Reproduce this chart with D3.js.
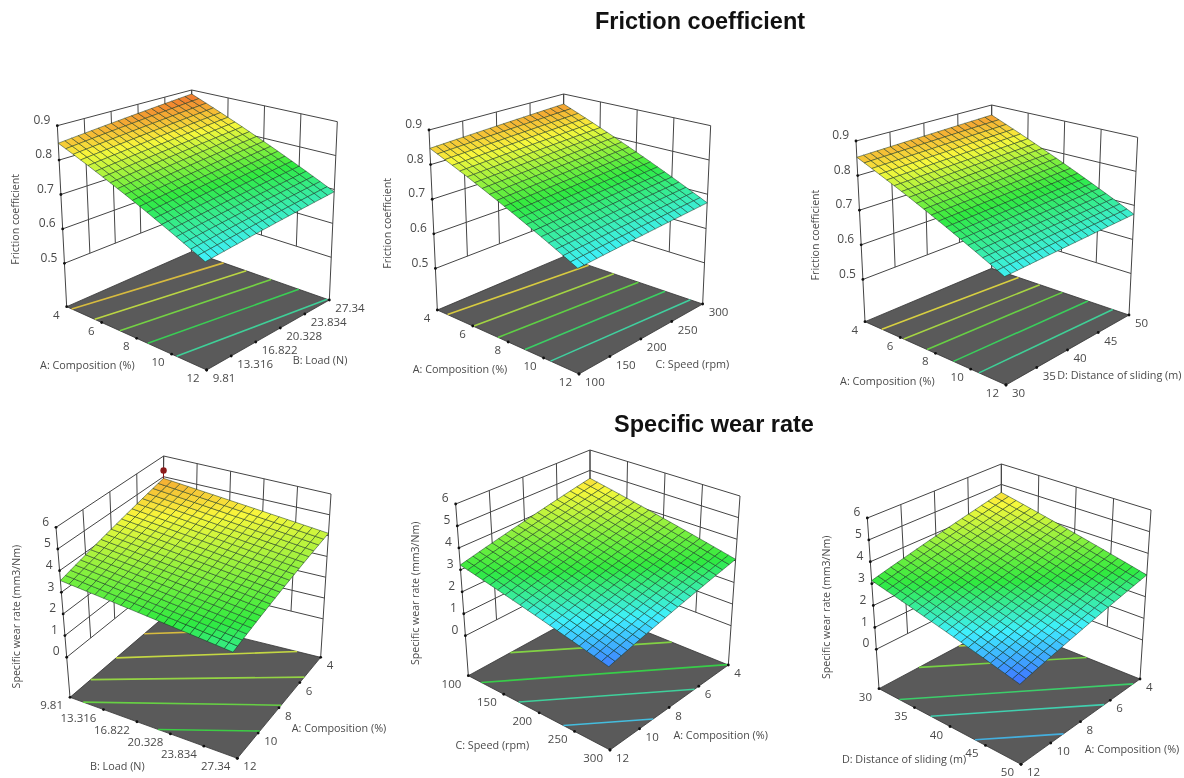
<!DOCTYPE html>
<html>
<head>
<meta charset="utf-8">
<script src="https://cdn.jsdelivr.net/npm/d3@7"></script>
<style>
  html, body { margin: 0; background: #fff; }
  svg { filter: blur(0.3px); }
  text { font-family: "Open Sans", sans-serif; fill: #4a4a4a; }
  .heading { font-family: "Liberation Sans", Arial, sans-serif; font-weight: bold; fill: #111; font-size: 23.5px; text-anchor: middle; }
</style>
</head>
<body>
<svg id="chart" width="1184" height="778"></svg>
<script>
// tick values on the axes
var compositionTicks = [4, 6, 8, 10, 12];
var compositionTicksRev = [12, 10, 8, 6, 4];
var loadTicks = [9.81, 13.316, 16.822, 20.328, 23.834, 27.34];
var speedTicks = [100, 150, 200, 250, 300];
var distanceTicks = [30, 35, 40, 45, 50];
var frictionTicks = [0.5, 0.6, 0.7, 0.8, 0.9];
var wearTicks = [0, 1, 2, 3, 4, 5, 6];

// The surfaces are flat response planes. Corner heights are read off the picture,
// in the order left, front, right, back; the mesh is a subdivision of that plane.
var frictionLoadCorners = [0.849, 0.654, 0.693, 0.887];
var frictionSpeedCorners = [0.847, 0.653, 0.675, 0.868];
var frictionDistanceCorners = [0.853, 0.66, 0.674, 0.868];
var wearLoadCorners = [3.54, 2.78, 4.11, 4.92];
var wearSpeedCorners = [3.22, 1.7, 3.07, 4.61];
var wearDistanceCorners = [3.14, 1.6, 3.0, 4.61];

// levels of the contours on the floor
var frictionLoadLevels = [0.842, 0.81, 0.775, 0.736, 0.696];
var frictionSpeedLevels = [0.833, 0.798, 0.764, 0.727, 0.692];
var frictionDistanceLevels = [0.83, 0.8, 0.768, 0.732, 0.697];
var wearLoadLevels = [4.65, 4.23, 3.85, 3.48, 3.14];
var wearSpeedLevels = [4.25, 3.7, 3.08, 2.68, 2.2];
var wearDistanceLevels = [4.1, 3.62, 2.92, 2.58, 2.1];

// the one design point shown above the surface (bottom left panel)
var wearLoadDesignPoint = [5.3];

// rainbow used by the software for each response
var frictionColorStops = [0.58, 0.655, 0.745, 0.825, 0.9];
var wearColorStops = [1.6, 2.35, 3.1, 4.4, 5.5];
var rainbow = ["#3f6cff", "#3ff0ff", "#30ea40", "#f8f83c", "#f0562a"];

var cellsPerSide = 20;

// layout: box corners are in 3x crop coordinates, relative to origin
var panels = [
  { origin: [0, 80], floor: [[200,680],[620,870],[988,660],[575,515]], top: [[172,137],[612,260],[1012,125],[575,30]],
    zMin: 0.374, zMax: 0.9, zTicks: frictionTicks, zFormat: d3.format(".1f"), stops: frictionColorStops,
    uTicks: compositionTicks, vTicks: loadTicks, corners: frictionLoadCorners, levels: frictionLoadLevels,
    uTitle: ["A: Composition (%)", 262, 857], vTitle: ["B: Load (N)", 960, 840], zTitle: ["Friction coefficient", 47, 418] },
  { origin: [380, 80], floor: [[172,690],[597,882],[968,672],[550,530]], top: [[147,150],[590,278],[992,137],[551,42]],
    zMin: 0.38, zMax: 0.9, zTicks: frictionTicks, zFormat: d3.format(".1f"), stops: frictionColorStops,
    uTicks: compositionTicks, vTicks: speedTicks, corners: frictionSpeedCorners, levels: frictionSpeedLevels,
    uTitle: ["A: Composition (%)", 240, 868], vTitle: ["C: Speed (rpm)", 937, 853], zTitle: ["Friction coefficient", 22, 430] },
  { origin: [810, 80], floor: [[165,725],[588,915],[957,705],[545,565]], top: [[138,183],[580,313],[983,172],[545,75]],
    zMin: 0.378, zMax: 0.9, zTicks: frictionTicks, zFormat: d3.format(".1f"), stops: frictionColorStops,
    uTicks: compositionTicks, vTicks: distanceTicks, corners: frictionDistanceCorners, levels: frictionDistanceLevels,
    uTitle: ["A: Composition (%)", 232, 903], vTitle: ["D: Distance of sliding (m)", 928, 887], zTitle: ["Friction coefficient", 15, 465] },
  { origin: [0, 450], floor: [[210,742],[712,925],[962,622],[487,505]], top: [[168,232],[690,385],[993,132],[491,18]],
    zMin: -1.85, zMax: 6, zTicks: wearTicks, zFormat: d3.format("d"), stops: wearColorStops,
    uTicks: loadTicks, vTicks: compositionTicksRev, corners: wearLoadCorners, levels: wearLoadLevels, designPoint: wearLoadDesignPoint,
    uTitle: ["B: Load (N)", 352, 950], vTitle: ["A: Composition (%)", 1017, 835], zTitle: ["Specific wear rate (mm3/Nm)", 50, 500] },
  { origin: [400, 450], floor: [[205,677],[630,900],[985,645],[570,477]], top: [[167,162],[622,345],[1020,138],[570,0]],
    zMin: -1.82, zMax: 6, zTicks: wearTicks, zFormat: d3.format("d"), stops: wearColorStops,
    uTicks: speedTicks, vTicks: compositionTicksRev, corners: wearSpeedCorners, levels: wearSpeedLevels,
    uTitle: ["C: Speed (rpm)", 277, 887], vTitle: ["A: Composition (%)", 962, 855], zTitle: ["Specific wear rate (mm3/Nm)", 47, 430] },
  { origin: [810, 450], floor: [[207,716],[633,943],[990,687],[574,520]], top: [[172,204],[625,392],[1023,180],[574,42]],
    zMin: -1.8, zMax: 6, zTicks: wearTicks, zFormat: d3.format("d"), stops: wearColorStops,
    uTicks: distanceTicks, vTicks: compositionTicksRev, corners: wearDistanceCorners, levels: wearDistanceLevels,
    uTitle: ["D: Distance of sliding (m)", 282, 928], vTitle: ["A: Composition (%)", 966, 897], zTitle: ["Specific wear rate (mm3/Nm)", 50, 472] }
];

// unit square to quad, corners in the order (0,0) (1,0) (1,1) (0,1).
// bilinear because ticks stay evenly spaced along the edges in the picture
function squareToQuad(q) {
  return function(u, v) {
    return [0, 1].map(function(k) {
      return q[0][k] * (1 - u) * (1 - v) + q[1][k] * u * (1 - v) + q[2][k] * u * v + q[3][k] * (1 - u) * v;
    });
  };
}

var svg = d3.select("#chart");

svg.append("text").attr("class", "heading").attr("x", 700).attr("y", 29).text("Friction coefficient");
svg.append("text").attr("class", "heading").attr("x", 714).attr("y", 432).text("Specific wear rate");

var line = d3.line();

panels.forEach(function(p) {
  var px = function(c) { return [p.origin[0] + c[0] / 3, p.origin[1] + c[1] / 3]; };
  var floorAt = squareToQuad(p.floor.map(px));
  var topAt = squareToQuad(p.top.map(px));

  var uScale = d3.scaleLinear().domain([p.uTicks[0], p.uTicks[p.uTicks.length - 1]]).range([0, 1]);
  var vScale = d3.scaleLinear().domain([p.vTicks[0], p.vTicks[p.vTicks.length - 1]]).range([0, 1]);
  var wScale = d3.scaleLinear().domain([p.zMin, p.zMax]).range([0, 1]);
  var color = d3.scaleLinear().domain(p.stops).range(rainbow).clamp(true);

  var project = function(u, v, w) {
    var a = floorAt(u, v), b = topAt(u, v);
    return [a[0] + (b[0] - a[0]) * w, a[1] + (b[1] - a[1]) * w];
  };
  // response plane from the four corner heights
  var zAt = function(u, v) {
    var c = p.corners;
    return c[0] * (1 - u) * (1 - v) + c[1] * u * (1 - v) + c[2] * u * v + c[3] * (1 - u) * v;
  };

  var g = svg.append("g");
  var walls = g.append("g").attr("fill", "none").attr("stroke", "#444").attr("stroke-width", 1);

  // horizontal grid on the two back walls
  walls.selectAll(".zgrid").data(p.zTicks).enter().append("path")
      .attr("d", function(z) {
        var w = wScale(z);
        return line([project(0, 0, w), project(0, 1, w), project(1, 1, w)]);
      });
  // vertical grid: inner lines stop at the lowest tick, the corners go down to the floor
  var wallBase = wScale(p.zTicks[0]);
  walls.selectAll(".vgrid").data(p.vTicks).enter().append("path")
      .attr("d", function(t) {
        var v = vScale(t);
        return line([project(0, v, v === 0 || v === 1 ? 0 : wallBase), project(0, v, 1)]);
      });
  walls.selectAll(".ugrid").data(p.uTicks).enter().append("path")
      .attr("d", function(t) {
        var u = uScale(t);
        return line([project(u, 1, u === 0 || u === 1 ? 0 : wallBase), project(u, 1, 1)]);
      });

  // floor
  g.append("path")
      .attr("d", line([project(0, 0, 0), project(1, 0, 0), project(1, 1, 0), project(0, 1, 0)]) + "Z")
      .attr("fill", "#5a5a5a").attr("stroke", "#333").attr("stroke-width", 0.8);

  // contours on the floor, straight because the response is a plane
  var edgeCrossings = function(level) {
    var ends = [[0, 0, 1, 0], [1, 0, 1, 1], [1, 1, 0, 1], [0, 1, 0, 0]], pts = [];
    ends.forEach(function(e) {
      var za = zAt(e[0], e[1]), zb = zAt(e[2], e[3]);
      if ((za - level) * (zb - level) < 0) {
        var t = (level - za) / (zb - za);
        pts.push(project(e[0] + (e[2] - e[0]) * t, e[1] + (e[3] - e[1]) * t, 0));
      }
    });
    return pts;
  };
  g.selectAll(".contour").data(p.levels).enter().append("path")
      .attr("d", function(l) { return line(edgeCrossings(l)); })
      .attr("fill", "none")
      .attr("stroke", function(l) { return color(l); })
      .attr("stroke-opacity", 0.8)
      .attr("stroke-width", 1.6);

  // tick dots on the axes
  var dots = [];
  p.zTicks.forEach(function(z) { dots.push(project(0, 0, wScale(z))); });
  p.uTicks.forEach(function(t) { dots.push(project(uScale(t), 0, 0)); });
  p.vTicks.forEach(function(t) { dots.push(project(1, vScale(t), 0)); });
  g.selectAll(".tick").data(dots).enter().append("circle")
      .attr("cx", function(d) { return d[0]; })
      .attr("cy", function(d) { return d[1]; })
      .attr("r", 1.4)
      .attr("fill", "#111");

  // surface mesh
  var cells = [];
  d3.range(cellsPerSide).forEach(function(i) {
    d3.range(cellsPerSide).forEach(function(j) { cells.push([i, j]); });
  });
  var cellCoord = d3.scaleLinear().domain([0, cellsPerSide]).range([0, 1]);
  g.append("g").selectAll("path").data(cells).enter().append("path")
      .attr("d", function(c) {
        var corners = [[c[0], c[1]], [c[0] + 1, c[1]], [c[0] + 1, c[1] + 1], [c[0], c[1] + 1]].map(function(k) {
          var u = cellCoord(k[0]), v = cellCoord(k[1]);
          return project(u, v, wScale(zAt(u, v)));
        });
        return line(corners) + "Z";
      })
      .attr("fill", function(c) {
        return color(zAt(cellCoord(c[0] + 0.5), cellCoord(c[1] + 0.5)));
      })
      .attr("stroke", "#12301f")
      .attr("stroke-opacity", 0.62)
      .attr("stroke-width", 0.8);

  // design point with its stem down to the surface
  if (p.designPoint) {
    var dp = project(0, 1, wScale(p.designPoint[0]));
    var foot = project(0, 1, wScale(zAt(0, 1)));
    g.append("path").attr("d", line([dp, foot])).attr("stroke", "#8b1a1a").attr("stroke-width", 1);
    g.append("circle").attr("cx", dp[0]).attr("cy", dp[1]).attr("r", 3.2).attr("fill", "#8b1a1a");
  }

  // tick labels
  g.selectAll(".zlabel").data(p.zTicks).enter().append("text")
      .attr("x", function(z) { return project(0, 0, wScale(z))[0] - 7; })
      .attr("y", function(z) { return project(0, 0, wScale(z))[1] - 6; })
      .attr("dy", "0.35em").attr("text-anchor", "end").attr("font-size", 12)
      .text(p.zFormat);
  g.selectAll(".ulabel").data(p.uTicks).enter().append("text")
      .attr("x", function(t) { return project(uScale(t), 0, 0)[0] - 7; })
      .attr("y", function(t) { return project(uScale(t), 0, 0)[1] + 8; })
      .attr("dy", "0.35em").attr("text-anchor", "end").attr("font-size", 11.5)
      .text(function(t) { return t; });
  g.selectAll(".vlabel").data(p.vTicks).enter().append("text")
      .attr("x", function(t) { return project(1, vScale(t), 0)[0] + 6; })
      .attr("y", function(t) { return project(1, vScale(t), 0)[1] + 8; })
      .attr("dy", "0.35em").attr("text-anchor", "start").attr("font-size", 11.5)
      .text(function(t) { return t; });

  // axis titles
  [p.uTitle, p.vTitle].forEach(function(t) {
    var at = px([t[1], t[2]]);
    g.append("text").attr("x", at[0]).attr("y", at[1]).attr("dy", "0.35em")
        .attr("text-anchor", "middle").attr("font-size", 10.8).text(t[0]);
  });
  var zt = px([p.zTitle[1], p.zTitle[2]]);
  g.append("text")
      .attr("transform", "translate(" + zt[0] + "," + zt[1] + ") rotate(-90)")
      .attr("dy", "0.35em").attr("text-anchor", "middle").attr("font-size", 10.6)
      .text(p.zTitle[0]);
});
</script>
</body>
</html>
